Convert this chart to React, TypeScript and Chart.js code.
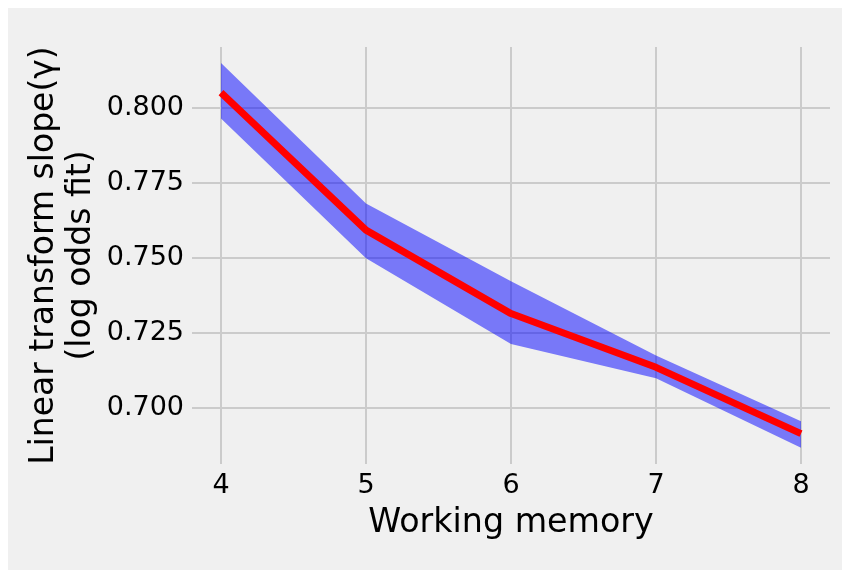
import React, { useEffect, useRef } from "react";
import { Chart, registerables } from "chart.js";

Chart.register(...registerables);

// Working-memory levels on the x axis
const memory = [4, 5, 6, 7, 8];
// Mean slope of the linear transform (log odds fit) per level
const slopeMean = [0.8052, 0.7594, 0.7316, 0.7137, 0.6916];
// Upper and lower edges of the shaded interval
const slopeUpper = [0.8151, 0.7683, 0.7424, 0.7176, 0.6957];
const slopeLower = [0.7966, 0.75, 0.7215, 0.7101, 0.6869];
// Tick positions
const xTicks = [4, 5, 6, 7, 8];
const yTicks = [0.7, 0.725, 0.75, 0.775, 0.8];

const FONT = "'DejaVu Sans', 'Liberation Sans', sans-serif";
const GRID = "#cbcbcb";

export default function App() {
  const canvasRef = useRef<HTMLCanvasElement | null>(null);

  useEffect(() => {
    document.documentElement.style.overflow = "hidden";
    document.body.style.overflow = "hidden";
    const canvas = canvasRef.current;
    if (!canvas) return;

    const pts = (ys: number[]) => memory.map((x, i) => ({ x, y: ys[i] }));

    const chart = new Chart(canvas, {
      type: "line",
      data: {
        datasets: [
          {
            label: "upper",
            data: pts(slopeUpper),
            borderWidth: 0,
            borderColor: "rgba(0,0,0,0)",
            backgroundColor: "rgba(0,0,255,0.5)",
            pointRadius: 0,
            fill: "+1",
            order: 2,
          },
          {
            label: "lower",
            data: pts(slopeLower),
            borderWidth: 0,
            borderColor: "rgba(0,0,0,0)",
            pointRadius: 0,
            fill: false,
            order: 3,
          },
          {
            label: "mean",
            data: pts(slopeMean),
            borderColor: "#ff0000",
            borderWidth: 7,
            borderJoinStyle: "round",
            pointRadius: 0,
            fill: false,
            order: 1,
          },
        ],
      },
      options: {
        animation: false,
        responsive: false,
        layout: { padding: { left: 0, right: 20, top: 39, bottom: 26 } },
        plugins: {
          legend: { display: false },
          tooltip: { enabled: false },
        },
        scales: {
          x: {
            type: "linear",
            min: 3.8,
            max: 8.2,
            afterBuildTicks: (scale: any) => {
              scale.ticks = xTicks.map((v) => ({ value: v }));
            },
            afterFit: (scale: any) => {
              scale.height = 80;
            },
            border: { display: false },
            grid: { color: GRID, lineWidth: 2, drawTicks: false },
            ticks: {
              padding: 6,
              color: "#000",
              font: { family: FONT, size: 27 },
              callback: (v: any) => String(v),
            },
            title: {
              display: true,
              text: "Working memory",
              color: "#000",
              font: { family: FONT, size: 33.3, lineHeight: 1.2 },
              padding: { top: 0, bottom: 1 },
            },
          },
          y: {
            type: "linear",
            min: 0.6815,
            max: 0.8204,
            afterBuildTicks: (scale: any) => {
              scale.ticks = yTicks.map((v) => ({ value: v }));
            },
            afterFit: (scale: any) => {
              scale.width = 184;
            },
            border: { display: false },
            grid: { color: GRID, lineWidth: 2, drawTicks: false },
            ticks: {
              padding: 8,
              color: "#000",
              font: { family: FONT, size: 27 },
              callback: (v: any) => Number(v).toFixed(3),
            },
            title: {
              display: true,
              text: ["Linear transform slope(\u03b3)", "(log odds fit)"],
              color: "#000",
              font: { family: FONT, size: 33, lineHeight: 1.12 },
              padding: { top: 18, bottom: 0 },
            },
          },
        },
      },
    });

    return () => chart.destroy();
  }, []);

  return (
    <canvas
      ref={canvasRef}
      width={842}
      height={562}
      style={{ display: "block", background: "#f0f0f0" }}
    />
  );
}
